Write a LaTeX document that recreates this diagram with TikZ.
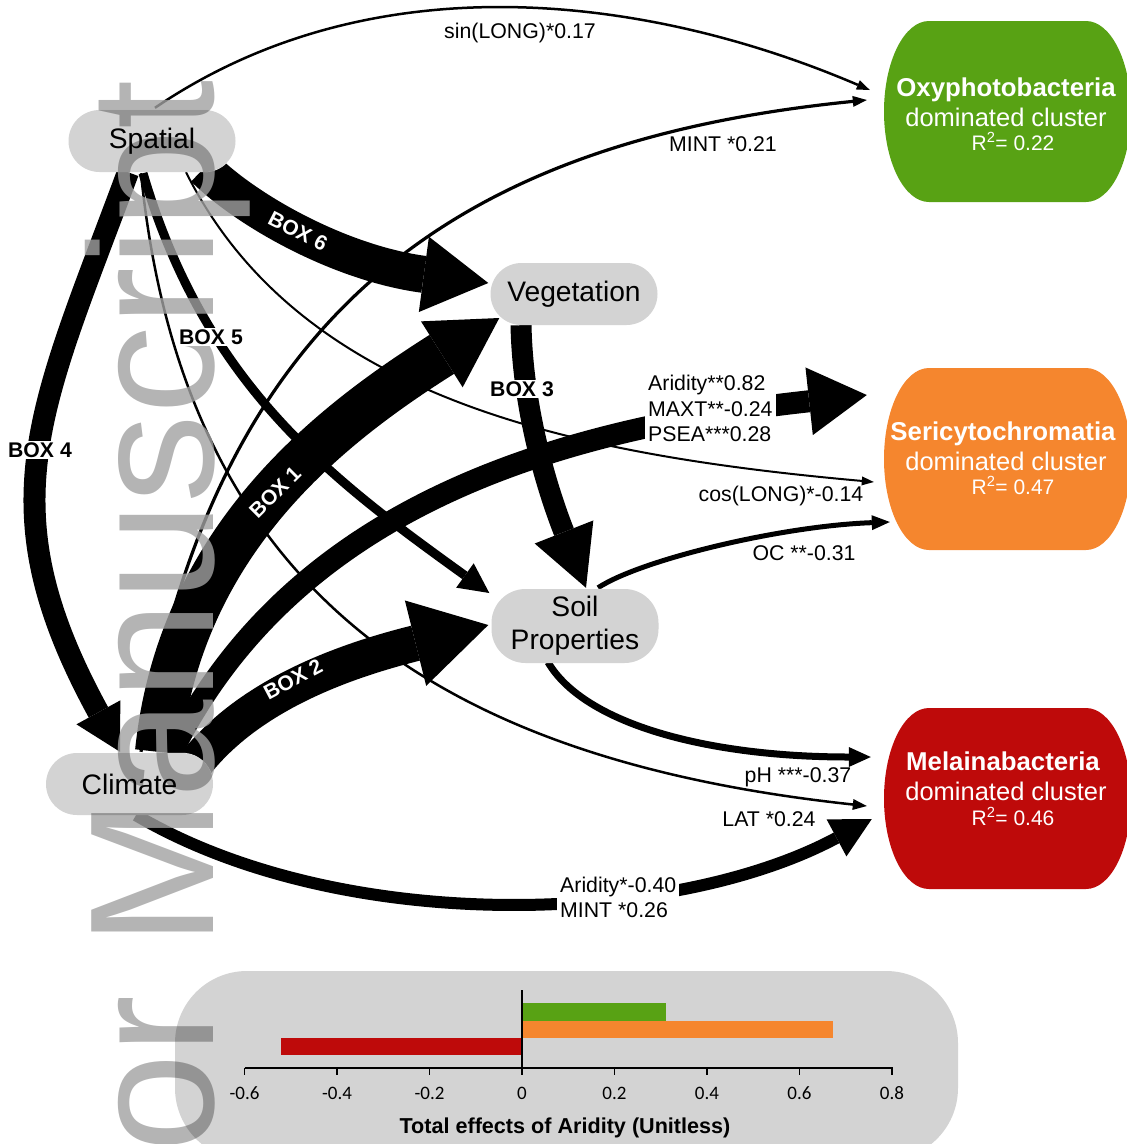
\documentclass[tikz,border=0pt]{standalone}
\usepackage{fontspec}
\setmainfont{Liberation Sans}
\newfontfamily\tickfont{Carlito}
\usetikzlibrary{arrows.meta,calc}
\pgfdeclarelayer{arrowlayer}
\pgfdeclarelayer{wmlayer}
\pgfsetlayers{arrowlayer,wmlayer,main}
\definecolor{oxygreen}{RGB}{88,162,20}
\definecolor{seriorange}{RGB}{245,134,46}
\definecolor{melred}{RGB}{190,10,10}
\definecolor{wmgray}{gray}{0.63}
\newcommand{\cblob}[3]{%
\fill[#3] (929,#1) -- (1086,#1) .. controls (1110.9,#1) and (1131,{#1+0.2238*(#2-#1)}) .. (1131,{(#1+#2)/2})
 .. controls (1131,{#2-0.2238*(#2-#1)}) and (1110.9,#2) .. (1086,#2) -- (929,#2)
 .. controls (904.1,#2) and (884,{#2-0.2238*(#2-#1)}) .. (884,{(#1+#2)/2})
 .. controls (884,{#1+0.2238*(#2-#1)}) and (904.1,#1) .. (929,#1) -- cycle;}
\tikzset{
 pill/.style={rectangle, rounded corners=31pt, minimum width=167pt, minimum height=62pt,
   fill=black, fill opacity=0.173, text opacity=1, font=\fontsize{28.2}{33}\selectfont,
   align=center, inner sep=0pt},
 pillmask/.style={fill=white, rounded corners=31pt},
 cnode/.style={rectangle, minimum width=247pt, minimum height=181pt, inner sep=0pt},
 boxtitle/.style={text=white, font=\bfseries\fontsize{25.8}{30}\selectfont, anchor=base, inner sep=0pt},
 boxsub/.style={text=white, font=\fontsize{25.5}{30}\selectfont, anchor=base, inner sep=0pt},
 boxr/.style={text=white, font=\fontsize{21}{25}\selectfont, anchor=base, inner sep=0pt},
 elabel/.style={font=\fontsize{21.3}{25.5}\selectfont, inner sep=0pt},
 blockl/.style={font=\fontsize{21.3}{25.5}\selectfont, fill=white, align=left, inner sep=3pt, anchor=west},
 blabel/.style={font=\bfseries\fontsize{21.2}{24}\selectfont, fill=white, inner sep=1.5pt},
 wlabel/.style={font=\bfseries\fontsize{21}{24}\selectfont, text=white, inner sep=0pt},
 wm/.style={font=\fontsize{177}{177}\selectfont, text=wmgray, text opacity=0.8, inner sep=0pt},
 arr/.style n args={3}{draw=black, line width=#1pt, -{Triangle[length=#2pt, width=#3pt, line width=0pt]}},
 ticklab/.style={font=\tickfont\fontsize{19}{23}\selectfont, inner sep=0pt},
 axisline/.style={draw=black, line width=1.8pt},
}
\begin{document}
\begin{tikzpicture}[x=1pt,y=-1pt]
\useasboundingbox (0,0) rectangle (1127,1144);

% ---- bottom panel ----
\fill[black, fill opacity=0.173, rounded corners=72pt] (175,971) rectangle (958,1160);

% ---- coloured outcome boxes ----
\cblob{21}{202}{oxygreen}
\cblob{368}{550}{seriorange}
\cblob{708}{889}{melred}
\node[cnode] (oxy) at (1007.5,111.5) {};
\node[cnode] (seri) at (1007.5,459) {};
\node[cnode] (mel) at (1007.5,798.5) {};
\node[boxtitle] (oxyA) at (1006,96) {Oxyphotobacteria};
\node[boxsub] (oxyB) at (1006,126) {dominated cluster};
\node[boxr] (oxyC) at (1013,150) {R\textsuperscript{2}= 0.22};
\node[boxtitle] (seriA) at (1003,440) {Sericytochromatia};
\node[boxsub] (seriB) at (1006,470) {dominated cluster};
\node[boxr] (seriC) at (1013,494) {R\textsuperscript{2}= 0.47};
\node[boxtitle] (melA) at (1003,770) {Melainabacteria};
\node[boxsub] (melB) at (1006,800) {dominated cluster};
\node[boxr] (melC) at (1013,825) {R\textsuperscript{2}= 0.46};

% ---- predictor pills ----
\node[pill] (sp) at (152,141) {Spatial};
\node[pill] (veg) at (574,294) {Vegetation};
\node[pill, minimum height=74pt, rounded corners=34pt] (soil) at (575,626) {Soil\\Properties};
\node[pill] (clim) at (129.5,784) {Climate};

% ---- connectors ----
\begin{pgfonlayer}{arrowlayer}
% thin ones
\draw[arr={2.5}{13}{10}] ($(sp.north)+(3,-2)$) .. controls (380,-45) and (660,0) .. ($(oxy.west)+(-14,-21.5)$);
\draw[arr={3.2}{14}{11}] ($(clim.north)+(11.5,-1)$) .. controls (217,302) and (467,140) .. ($(oxy.west)+(-17,-11.5)$);
\draw[arr={2}{12}{9}] ($(sp.south)+(34,0)$) .. controls (300,400) and (574,455) .. ($(seri.west)+(-10,23)$);
\draw[arr={2.5}{14}{11}] ($(sp.south)+(-11,1)$) .. controls (183,593) and (440,760) .. ($(mel.west)+(-17,7.5)$);
% Spatial
\draw[arr={22}{45}{50}] ($(sp.south)+(-24,0)$) .. controls (40,410) and (-15,505) .. ($(clim.north)+(-9.5,-1)$);
\draw[arr={9}{30}{30}] ($(sp.south)+(-9,1)$) .. controls (205,384) and (328,477) .. ($(soil.west)+(-2,-33)$);
\draw[arr={37}{65}{76}] ($(sp.south)+(52,-4)$) .. controls (246,210) and (339,263) .. ($(veg.west)+(-2,-11)$);
% Climate
\draw[arr={46}{68}{78}] ($(clim.north)+(28.5,-1)$) .. controls (180,540) and (330,425) .. ($(veg.west)+(9,24)$);
\draw[arr={22}{58}{68}] ($(clim.north)+(42.5,-1)$) .. controls (284,527) and (517,433) .. ($(seri.west)+(-17,-64)$);
\draw[arr={36}{75}{88}] ($(clim.east)+(-21,-16)$) .. controls (240,704) and (324,666) .. ($(soil.west)+(-3,-1)$);
\draw[arr={12}{40}{42}] ($(clim.south)+(6.5,0)$) .. controls (340,935) and (670,927) .. ($(mel.west)+(-12,20.5)$);
% Vegetation / Soil
\draw[arr={21}{60}{63}] ($(veg.south)+(-53,0)$) .. controls (523,420) and (553,504) .. ($(soil.north)+(11,-1)$);
\draw[arr={5}{18}{15}] ($(soil.north)+(23,-1)$) .. controls (640,560) and (780,526) .. ($(seri.west)+(6,63)$);
\draw[arr={7}{22}{20}] ($(soil.south)+(-27,-1)$) .. controls (585,725) and (710,757) .. ($(mel.west)+(-13,-41.5)$);
\end{pgfonlayer}

% ---- watermark ----
\begin{pgfonlayer}{wmlayer}
\fill[pillmask] (sp.south west) rectangle (sp.north east);
\fill[pillmask] (veg.south west) rectangle (veg.north east);
\fill[pillmask, rounded corners=34pt] (soil.south west) rectangle (soil.north east);
\fill[pillmask] (clim.south west) rectangle (clim.north east);
\node[wm, rotate=90, anchor=base east] (wmark) at (213,80) {Author Manuscript};
\end{pgfonlayer}

% ---- path labels ----
\node[elabel] (l1) at (520,33) {sin(LONG)*0.17};
\node[elabel] (l2) at (723,144) {MINT *0.21};
\node[elabel] (l3) at (781,496) {cos(LONG)*-0.14};
\node[elabel] (l4) at (804,553) {OC **-0.31};
\node[elabel] (l5) at (798,777) {pH ***-0.37};
\node[elabel] (l6) at (769,819) {LAT *0.24};
\node[blockl] (l7) at (645,408.5) {Aridity**0.82\\MAXT**-0.24\\PSEA***0.28};
\node[blockl] (l8) at (557,897.5) {Aridity*-0.40\\MINT *0.26};

\node[blabel] (b4) at (40,450) {BOX 4};
\node[blabel] (b5) at (211,337) {BOX 5};
\node[blabel] (b3) at (522,389) {BOX 3};
\node[wlabel, rotate=-27] (b6) at (298,231) {BOX 6};
\node[wlabel, rotate=45] (b1) at (275,492) {BOX 1};
\node[wlabel, rotate=28] (b2) at (293,679) {BOX 2};

% ---- bar chart ----
\fill[oxygreen] (522,1003) rectangle (666,1021);
\fill[seriorange] (522,1021) rectangle (833,1038);
\fill[melred] (281,1038) rectangle (522,1055);
\draw[axisline] (244.5,1068) -- (892.5,1068);
\draw[axisline] (522,990) -- (522,1068);
\foreach \v/\lab [count=\i] in {-0.6/-0.6,-0.4/-0.4,-0.2/-0.2,0/0,0.2/0.2,0.4/0.4,0.6/0.6,0.8/0.8}{
  \draw[axisline] ({522+462.5*\v},1068) -- ({522+462.5*\v},1075);
  \node[ticklab] (tick\i) at ({522+462.5*\v},1093) {\lab};
}
\node[font=\bfseries\fontsize{21.6}{25}\selectfont, inner sep=0pt] (ttl) at (565,1128) {Total effects of Aridity (Unitless)};
\end{tikzpicture}
\end{document}
